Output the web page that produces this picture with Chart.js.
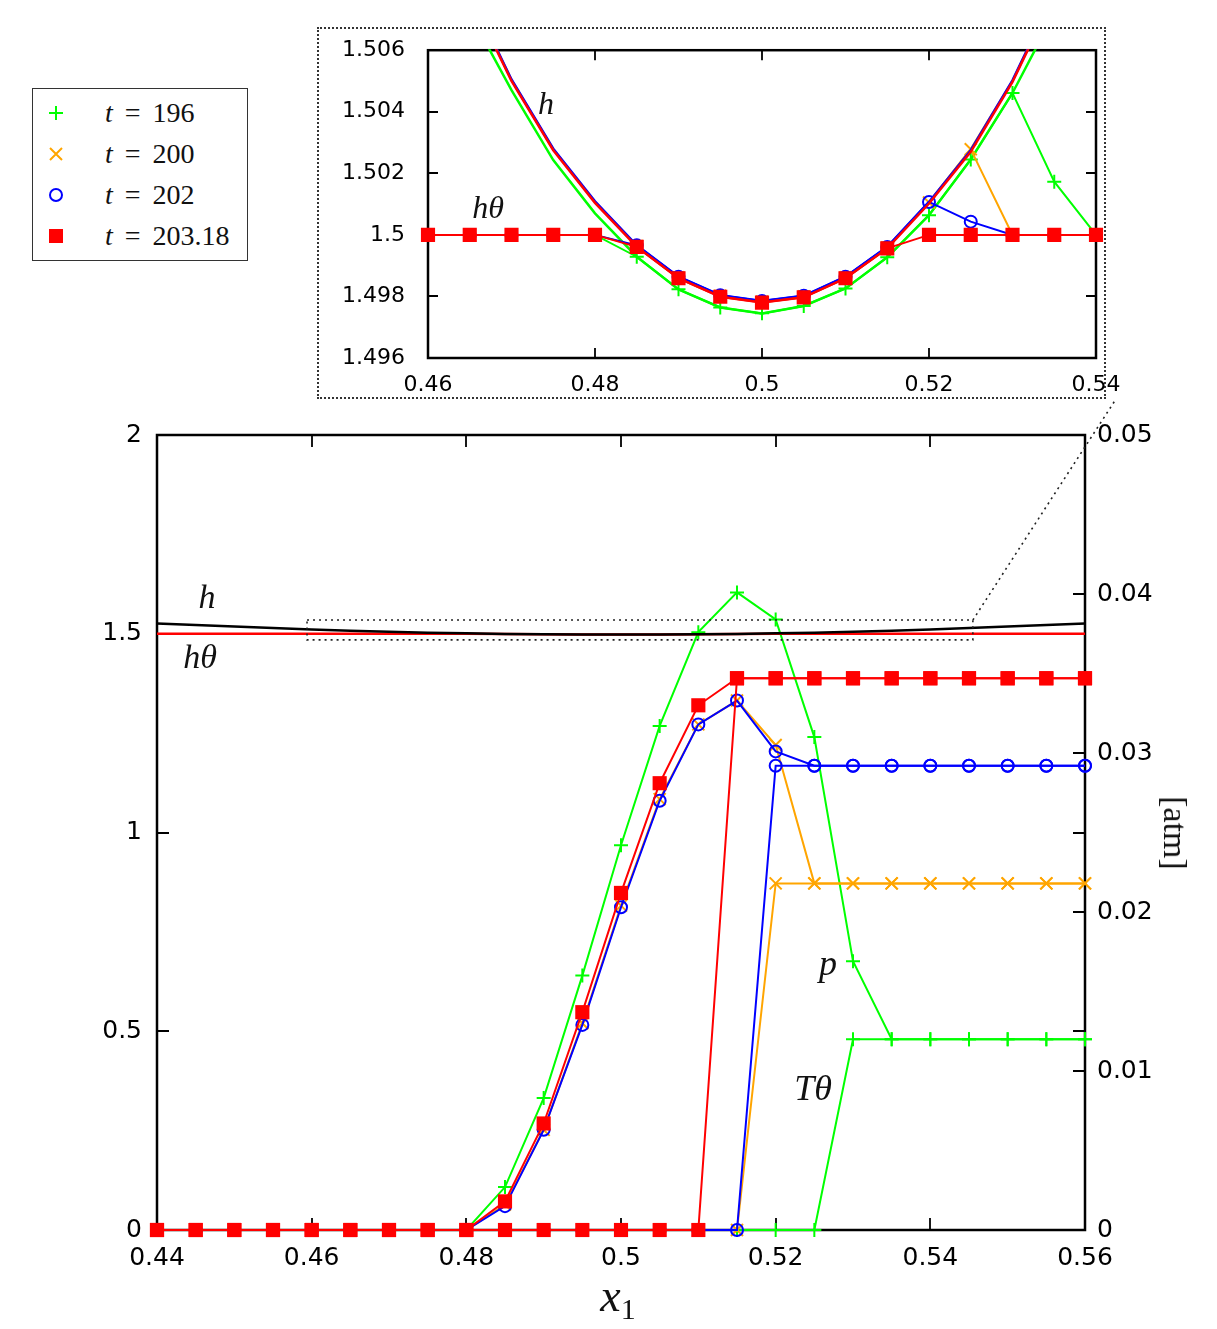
<!DOCTYPE html>
<html>
<head>
<meta charset="utf-8">
<title>h, hθ, p, Tθ</title>
<script src="https://cdn.jsdelivr.net/npm/chart.js@4.4.0/dist/chart.umd.min.js"></script>
<style>
  html, body { margin: 0; padding: 0; background: #fff; }
  #wrap { position: relative; width: 1217px; height: 1329px; overflow: hidden; }
  #main { position: absolute; left: 0; top: 0; }
  #zoombox { position: absolute; left: 317px; top: 27px; width: 789px; height: 372px;
             box-sizing: border-box; border: 2px dotted #333; background: #fff; }
  #inset { position: absolute; left: 300px; top: 14px; }
  .lbl { position: absolute; font-family: "Liberation Serif", "DejaVu Serif", serif; font-style: italic;
         color: #111; transform: translate(-50%, -50%); white-space: nowrap; line-height: 1; }
  #legend { position: absolute; left: 32px; top: 88px; width: 216px; height: 173px; box-sizing: border-box;
            border: 1.5px solid #333; background: #fff; }
  .row { position: absolute; left: 0; height: 30px; width: 100%; }
  .row svg { position: absolute; left: 13px; top: 5px; }
  .row span.t { position: absolute; left: 72px; top: 0; font-family: "Liberation Serif", serif; font-size: 28px;
                line-height: 30px; color: #111; white-space: nowrap; }
  .row i { margin-right: 12px; }
  .row b { font-weight: normal; margin-right: 12px; }
</style>
</head>
<body>
<div id="wrap">
  <canvas id="main" width="1217" height="1329"></canvas>
  <div id="zoombox"></div>
  <canvas id="inset" width="840" height="394"></canvas>

  <div id="legend">
    <div class="row" style="top:9px"><svg width="20" height="20"><path d="M10 3 V17 M3 10 H17" stroke="#00ff00" stroke-width="2"/></svg><span class="t"><i>t</i><b>=</b>196</span></div>
    <div class="row" style="top:50px"><svg width="20" height="20"><path d="M4 4 L16 16 M16 4 L4 16" stroke="#ffa500" stroke-width="2"/></svg><span class="t"><i>t</i><b>=</b>200</span></div>
    <div class="row" style="top:91px"><svg width="20" height="20"><circle cx="10" cy="10" r="6" fill="none" stroke="#0000ff" stroke-width="2"/></svg><span class="t"><i>t</i><b>=</b>202</span></div>
    <div class="row" style="top:132px"><svg width="20" height="20"><rect x="3" y="3" width="14" height="14" fill="#ff0000"/></svg><span class="t"><i>t</i><b>=</b>203.18</span></div>
  </div>

  <div class="lbl" style="left:207px; top:597px; font-size:34px;">h</div>
  <div class="lbl" style="left:200px; top:657px; font-size:34px;">hθ</div>
  <div class="lbl" style="left:828px; top:963px; font-size:36px;">p</div>
  <div class="lbl" style="left:813px; top:1088px; font-size:36px;">Tθ</div>
  <div class="lbl" style="left:546px; top:103px; font-size:32px;">h</div>
  <div class="lbl" style="left:488px; top:207px; font-size:32px;">hθ</div>
  <div class="lbl" style="left:618px; top:1298px; font-size:46px;">x<span style="font-style:normal; font-size:30px; vertical-align:-8px;">1</span></div>
  <div class="lbl" style="left:1175px; top:833px; font-size:34px; font-style:normal; transform:translate(-50%,-50%) rotate(90deg);">[atm]</div>
</div>

<script>
// ---- dados ----
var X = [0.44, 0.445, 0.45, 0.455, 0.46, 0.465, 0.47, 0.475, 0.48, 0.485, 0.49, 0.495, 0.5,
         0.505, 0.51, 0.515, 0.52, 0.525, 0.53, 0.535, 0.54, 0.545, 0.55, 0.555, 0.56];

// altura h
var H_196 = [1.525, 1.521, 1.517, 1.5135, 1.5102, 1.5072, 1.5047, 1.50243, 1.5007, 1.49929, 1.49823, 1.49764, 1.49745,
             1.49769, 1.49826, 1.49927, 1.50064, 1.50245, 1.50461, 1.5072, 1.5102, 1.5135, 1.517, 1.521, 1.525];
var H_200 = [1.52603, 1.52203, 1.51803, 1.51453, 1.51103, 1.50783, 1.50503, 1.50278, 1.50107, 1.49964, 1.49862, 1.49802, 1.49783,
             1.498, 1.49862, 1.49959, 1.50105, 1.50278, 1.505, 1.50783, 1.51103, 1.51453, 1.51803, 1.52203, 1.52603];
var H_202 = [1.52605, 1.52205, 1.51805, 1.51455, 1.51105, 1.50785, 1.50505, 1.5028, 1.50109, 1.49966, 1.49864, 1.49804, 1.49785,
             1.49802, 1.49864, 1.49961, 1.50107, 1.50275, 1.50502, 1.50785, 1.51105, 1.51455, 1.51805, 1.52205, 1.52605];
var H_203 = [1.526, 1.522, 1.518, 1.5145, 1.511, 1.5078, 1.505, 1.50275, 1.50104, 1.49961, 1.49859, 1.49799, 1.4978,
             1.49797, 1.49859, 1.49956, 1.50102, 1.5027, 1.50497, 1.5078, 1.511, 1.5145, 1.518, 1.522, 1.526];

// h theta
var HTH_196 = [1.5, 1.5, 1.5, 1.5, 1.5, 1.5, 1.5, 1.5, 1.5, 1.49929, 1.49823, 1.49764, 1.49745,
               1.49769, 1.49826, 1.49927, 1.50064, 1.50245, 1.50461, 1.50173, 1.5, 1.5, 1.5, 1.5, 1.5];
var HTH_200 = [1.5, 1.5, 1.5, 1.5, 1.5, 1.5, 1.5, 1.5, 1.5, 1.49964, 1.49862, 1.49802, 1.49783,
               1.498, 1.49862, 1.49959, 1.50105, 1.50278, 1.5, 1.5, 1.5, 1.5, 1.5, 1.5, 1.5];
var HTH_202 = [1.5, 1.5, 1.5, 1.5, 1.5, 1.5, 1.5, 1.5, 1.5, 1.49966, 1.49864, 1.49804, 1.49785,
               1.49802, 1.49864, 1.49961, 1.50107, 1.50043, 1.5, 1.5, 1.5, 1.5, 1.5, 1.5, 1.5];
var HTH_203 = [1.5, 1.5, 1.5, 1.5, 1.5, 1.5, 1.5, 1.5, 1.5, 1.49961, 1.49859, 1.49799, 1.4978,
               1.49797, 1.49859, 1.49956, 1.5, 1.5, 1.5, 1.5, 1.5, 1.5, 1.5, 1.5, 1.5];

// pressao p [atm]
var P_196 = [0, 0, 0, 0, 0, 0, 0, 0, 0, 0.0027, 0.0083, 0.016, 0.0242,
             0.0317, 0.0376, 0.0401, 0.0384, 0.031, 0.0169, 0.012, 0.012, 0.012, 0.012, 0.012, 0.012];
var P_200 = [0, 0, 0, 0, 0, 0, 0, 0, 0, 0.0016, 0.0063, 0.013, 0.0204,
             0.0271, 0.0318, 0.0333, 0.0305, 0.0218, 0.0218, 0.0218, 0.0218, 0.0218, 0.0218, 0.0218, 0.0218];
var P_202 = [0, 0, 0, 0, 0, 0, 0, 0, 0, 0.0015, 0.0063, 0.0129, 0.0203,
             0.027, 0.0318, 0.0333, 0.0301, 0.0292, 0.0292, 0.0292, 0.0292, 0.0292, 0.0292, 0.0292, 0.0292];
var P_203 = [0, 0, 0, 0, 0, 0, 0, 0, 0, 0.0018, 0.0067, 0.0137, 0.0212,
             0.0281, 0.033, 0.0347, 0.0347, 0.0347, 0.0347, 0.0347, 0.0347, 0.0347, 0.0347, 0.0347, 0.0347];

// T theta [atm]
var TTH_196 = [0, 0, 0, 0, 0, 0, 0, 0, 0, 0, 0, 0, 0,
               0, 0, 0, 0, 0, 0.012, 0.012, 0.012, 0.012, 0.012, 0.012, 0.012];
var TTH_200 = [0, 0, 0, 0, 0, 0, 0, 0, 0, 0, 0, 0, 0,
               0, 0, 0, 0.0218, 0.0218, 0.0218, 0.0218, 0.0218, 0.0218, 0.0218, 0.0218, 0.0218];
var TTH_202 = [0, 0, 0, 0, 0, 0, 0, 0, 0, 0, 0, 0, 0,
               0, 0, 0, 0.0292, 0.0292, 0.0292, 0.0292, 0.0292, 0.0292, 0.0292, 0.0292, 0.0292];
var TTH_203 = [0, 0, 0, 0, 0, 0, 0, 0, 0, 0, 0, 0, 0,
               0, 0, 0.0347, 0.0347, 0.0347, 0.0347, 0.0347, 0.0347, 0.0347, 0.0347, 0.0347, 0.0347];

// ticks
var X_TICKS      = [0.44, 0.46, 0.48, 0.5, 0.52, 0.54, 0.56];
var Y_TICKS      = [0, 0.5, 1, 1.5, 2];
var Y2_TICKS     = [0, 0.01, 0.02, 0.03, 0.04, 0.05];
var INSET_XTICKS = [0.46, 0.48, 0.5, 0.52, 0.54];
var INSET_YTICKS = [1.496, 1.498, 1.5, 1.502, 1.504, 1.506];

// regiao ampliada marcada no grafico principal
var ZOOM_X = [0.4594, 0.5455];
var ZOOM_Y = [1.4845, 1.5345];

// ---- estilos ----
var GREEN = "#00ff00", ORANGE = "#ffa500", BLUE = "#0000ff", RED = "#ff0000";
var MARK = {
  t196: { color: GREEN,  style: "cross",    r: 7,   fill: GREEN },
  t200: { color: ORANGE, style: "crossRot", r: 8.5, fill: ORANGE },
  t202: { color: BLUE,   style: "circle",   r: 6,   fill: "rgba(0,0,0,0)" },
  t203: { color: RED,    style: "rect",     r: 10,  fill: RED }
};

function pts(ys, from, to) {
  var out = [];
  for (var i = from; i <= to; i++) out.push({ x: X[i], y: ys[i] });
  return out;
}

function fmt(v) { return String(Number(v.toFixed(4))); }

function markedSet(ys, m, axis, order, from, to) {
  return {
    data: pts(ys, from, to),
    yAxisID: axis,
    order: order,
    borderColor: m.color,
    borderWidth: 2,
    pointStyle: m.style,
    pointRadius: m.r,
    pointBorderWidth: m.style === "rect" ? 0 : 2,
    pointBorderColor: m.color,
    pointBackgroundColor: m.fill,
    tension: 0,
    clip: false
  };
}

function lineSet(ys, color, axis, order, from, to, width, clip) {
  return {
    data: pts(ys, from, to),
    yAxisID: axis,
    order: order,
    borderColor: color,
    borderWidth: width,
    pointRadius: 0,
    tension: 0,
    clip: clip
  };
}

// moldura e ticks para dentro (estilo gnuplot)
var framePlugin = {
  id: "frame",
  beforeDatasetsDraw: function(chart, args, opts) {
    var a = chart.chartArea, ctx = chart.ctx, len = opts.tickLen;
    var sx = chart.scales.x, sy = chart.scales.y, sy2 = chart.scales.y2;
    ctx.save();
    ctx.strokeStyle = "#000";
    ctx.lineWidth = 1.8;
    ctx.beginPath();
    opts.xTicks.forEach(function(v) {
      var px = Math.round(sx.getPixelForValue(v));
      ctx.moveTo(px, a.bottom); ctx.lineTo(px, a.bottom - len);
      ctx.moveTo(px, a.top);    ctx.lineTo(px, a.top + len);
    });
    opts.yTicks.forEach(function(v) {
      var py = Math.round(sy.getPixelForValue(v));
      ctx.moveTo(a.left, py);  ctx.lineTo(a.left + len, py);
      ctx.moveTo(a.right, py); ctx.lineTo(a.right - len, py);
    });
    if (sy2 && opts.y2Ticks) {
      opts.y2Ticks.forEach(function(v) {
        var py = Math.round(sy2.getPixelForValue(v));
        ctx.moveTo(a.right, py); ctx.lineTo(a.right - len, py);
      });
    }
    ctx.stroke();
    ctx.lineWidth = 2.5;
    ctx.strokeRect(a.left, a.top, a.right - a.left, a.bottom - a.top);
    ctx.restore();
  }
};

// retangulo pontilhado + linha ate o inset
var zoomMarkPlugin = {
  id: "zoomMark",
  afterDatasetsDraw: function(chart, args, opts) {
    if (!opts.show) return;
    var ctx = chart.ctx, sx = chart.scales.x, sy = chart.scales.y;
    var x0 = sx.getPixelForValue(ZOOM_X[0]), x1 = sx.getPixelForValue(ZOOM_X[1]);
    var y0 = sy.getPixelForValue(ZOOM_Y[1]), y1 = sy.getPixelForValue(ZOOM_Y[0]);
    ctx.save();
    ctx.strokeStyle = "#222";
    ctx.lineWidth = 1.6;
    ctx.setLineDash([2, 4]);
    ctx.strokeRect(x0, y0, x1 - x0, y1 - y0);
    ctx.beginPath();
    ctx.moveTo(x1, y0);
    ctx.lineTo(opts.toX, opts.toY);
    ctx.stroke();
    ctx.restore();
  }
};

function axisTicks(list) {
  return function(scale) { scale.ticks = list.map(function(v) { return { value: v }; }); };
}

var TICK_FONT = { family: "DejaVu Sans", size: 25 };

// ---- grafico principal ----
var mainSets = [
  lineSet(H_203,   "#000", "y", 0, 0, 24, 2.5, false),
  lineSet(HTH_203, RED,    "y", 1, 0, 24, 2.5, false),
  markedSet(P_203,   MARK.t203, "y2", 2, 0, 24),
  markedSet(TTH_203, MARK.t203, "y2", 3, 0, 24),
  markedSet(P_202,   MARK.t202, "y2", 4, 0, 24),
  markedSet(TTH_202, MARK.t202, "y2", 5, 0, 24),
  markedSet(P_200,   MARK.t200, "y2", 6, 0, 24),
  markedSet(TTH_200, MARK.t200, "y2", 7, 0, 24),
  markedSet(P_196,   MARK.t196, "y2", 8, 0, 24),
  markedSet(TTH_196, MARK.t196, "y2", 9, 0, 24)
];

new Chart(document.getElementById("main"), {
  type: "line",
  data: { datasets: mainSets },
  options: {
    responsive: false,
    animation: false,
    devicePixelRatio: 1,
    layout: { padding: { top: 435, left: 0, right: 0, bottom: 0 } },
    plugins: {
      legend: { display: false },
      tooltip: { enabled: false },
      frame: { xTicks: X_TICKS, yTicks: Y_TICKS, y2Ticks: Y2_TICKS, tickLen: 12 },
      zoomMark: { show: true, toX: 1116, toY: 399 }
    },
    scales: {
      x: {
        type: "linear", min: 0.44, max: 0.56,
        afterBuildTicks: axisTicks(X_TICKS),
        afterFit: function(s) { s.height = 99; },
        grid: { display: false, drawTicks: false }, border: { display: false },
        ticks: { font: TICK_FONT, color: "#000", padding: 13, maxRotation: 0, autoSkip: false, callback: fmt }
      },
      y: {
        type: "linear", position: "left", min: 0, max: 2,
        afterBuildTicks: axisTicks(Y_TICKS),
        afterFit: function(s) { s.width = 157; },
        grid: { display: false, drawTicks: false }, border: { display: false },
        ticks: { font: TICK_FONT, color: "#000", padding: 15, autoSkip: false, callback: fmt }
      },
      y2: {
        type: "linear", position: "right", min: 0, max: 0.05,
        afterBuildTicks: axisTicks(Y2_TICKS),
        afterFit: function(s) { s.width = 132; },
        grid: { display: false, drawTicks: false }, border: { display: false },
        ticks: { font: TICK_FONT, color: "#000", padding: 12, autoSkip: false, callback: fmt }
      }
    }
  },
  plugins: [framePlugin, zoomMarkPlugin]
});

// ---- inset (0.46 a 0.54) ----
// o eixo y reserva (meia linha + padding) em cima, por isso o canvas sobe
var INSET_CLIP = { left: 12, right: 12, top: 1, bottom: 1 };
var insetSets = [
  markedSet(HTH_203, MARK.t203, "y", 0, 4, 20),
  lineSet(H_203, RED, "y", 1, 4, 20, 2.5, INSET_CLIP),
  markedSet(HTH_202, MARK.t202, "y", 2, 4, 20),
  lineSet(H_202, BLUE, "y", 3, 4, 20, 2.5, INSET_CLIP),
  markedSet(HTH_200, MARK.t200, "y", 4, 4, 20),
  lineSet(H_200, ORANGE, "y", 5, 4, 20, 2.5, INSET_CLIP),
  markedSet(HTH_196, MARK.t196, "y", 6, 4, 20),
  lineSet(H_196, GREEN, "y", 7, 4, 20, 2.5, INSET_CLIP)
];
insetSets.forEach(function(d) { if (d.pointRadius) d.clip = INSET_CLIP; });

new Chart(document.getElementById("inset"), {
  type: "line",
  data: { datasets: insetSets },
  options: {
    responsive: false,
    animation: false,
    devicePixelRatio: 1,
    layout: { padding: { top: 36, left: 0, right: 44, bottom: 0 } },
    plugins: {
      legend: { display: false },
      tooltip: { enabled: false },
      frame: { xTicks: INSET_XTICKS, yTicks: INSET_YTICKS, tickLen: 10 },
      zoomMark: { show: false }
    },
    scales: {
      x: {
        type: "linear", min: 0.46, max: 0.54,
        afterBuildTicks: axisTicks(INSET_XTICKS),
        afterFit: function(s) { s.height = 50; },
        grid: { display: false, drawTicks: false }, border: { display: false },
        ticks: { font: { family: "DejaVu Sans", size: 22 }, color: "#000", padding: 14, maxRotation: 0, autoSkip: false, callback: fmt }
      },
      y: {
        type: "linear", position: "left", min: 1.496, max: 1.506,
        afterBuildTicks: axisTicks(INSET_YTICKS),
        afterFit: function(s) { s.width = 128; },
        grid: { display: false, drawTicks: false }, border: { display: false },
        ticks: { font: { family: "DejaVu Sans", size: 22 }, color: "#000", padding: 23, autoSkip: false, callback: fmt }
      }
    }
  },
  plugins: [framePlugin, zoomMarkPlugin]
});
</script>
</body>
</html>
